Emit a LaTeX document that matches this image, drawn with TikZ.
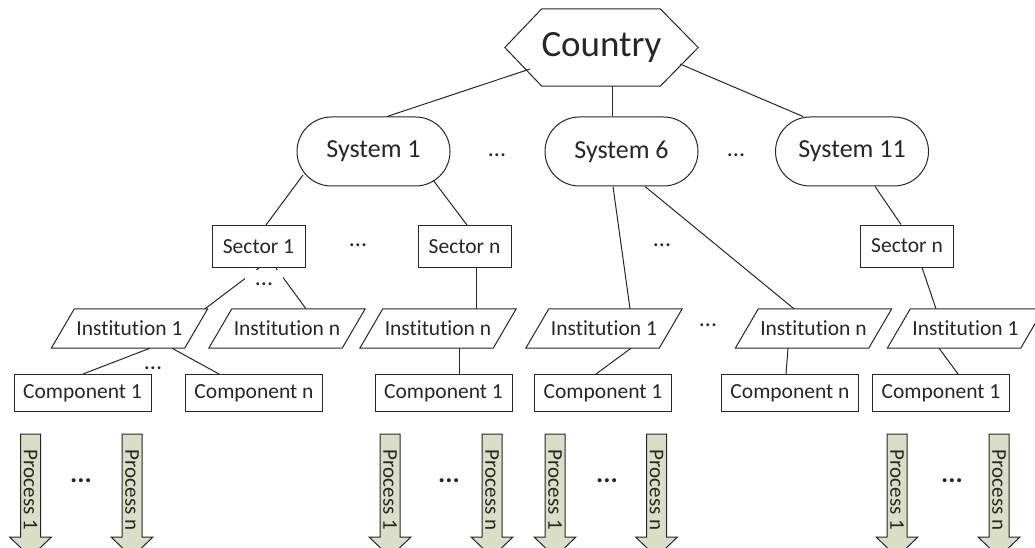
\documentclass[tikz,border=0pt]{standalone}
\usepackage{fontspec}
\setmainfont[RawFeature={-liga}]{Carlito}
\usetikzlibrary{calc,shapes.misc}

\definecolor{ink}{RGB}{38,38,38}
\definecolor{procfill}{RGB}{218,222,198}

\tikzset{
  edge/.style={draw=ink, line width=1pt},
  lbl/.style={text=ink, inner sep=0pt, font=\fontsize{21.5}{24}\selectfont},
  sysbox/.style={lbl, rounded rectangle, edge, minimum width=153, minimum height=69,
    font=\fontsize{26}{30}\selectfont},
  secbox/.style={lbl, rectangle, edge, minimum width=93, minimum height=42},
  compbox/.style={lbl, rectangle, edge, minimum width=137, minimum height=37},
  instlbl/.style={lbl, minimum width=133, minimum height=39},
  proclbl/.style={lbl, rotate=-90, font=\fontsize{21}{24}\selectfont},
  arrowbody/.style={edge, fill=procfill},
  gap/.style={lbl, font=\fontsize{24}{26}\selectfont},
  procgap/.style={lbl, font=\fontsize{27}{30}\bfseries\selectfont},
}

% parallelogram holding an institution name
\newcommand\institution[4]{%
  \node[instlbl] (#1) at (#2,#3) {#4};
  \draw[edge] ($(#1.south west)+(-11.5,0)$) -- ($(#1.north west)+(11.5,0)$)
    -- ($(#1.north east)+(11.5,0)$) -- ($(#1.south east)+(-11.5,0)$) -- cycle;}

% downward block arrow with a vertical process name
\newcommand\processarrow[3]{%
  \draw[arrowbody] (#2-10,434) -- (#2+10,434) -- (#2+10,537) -- (#2+21,537)
    -- (#2,557) -- (#2-21,537) -- (#2-10,537) -- cycle;
  \node[proclbl] (#1) at (#2,490) {#3};}

\begin{document}
\begin{tikzpicture}[x=1pt,y=-1pt]
\useasboundingbox (0,0) rectangle (1035,548);
\clip (0,0) rectangle (1035,548);

% root
\node[lbl, font=\fontsize{37}{40}\selectfont, minimum width=193, minimum height=77]
  (country) at (601.5,47.5) {Country};
\draw[edge] (country.west) -- ($(country.north west)+(37,0)$)
  -- ($(country.north east)+(-38,0)$) -- (country.east)
  -- ($(country.south east)+(-38,0)$) -- ($(country.south west)+(37,0)$) -- cycle;

% systems
\node[sysbox] (s1)  at (373.5,151.5) {System 1};
\node[sysbox] (s6)  at (621.5,151.5) {System 6};
\node[sysbox] (s11) at (852,151.5)   {System 11};

% sectors
\node[secbox] (sec1)  at (258.5,246.5) {Sector 1};
\node[secbox] (secNa) at (464.5,246.5) {Sector n};
\node[secbox] (secNe) at (907,246)     {Sector n};

% institutions
\institution{i1a}{129.5}{328.5}{Institution 1}
\institution{iNa}{287}{328.5}{Institution n}
\institution{iNb}{438}{328.5}{Institution n}
\institution{i1c}{604}{328.5}{Institution 1}
\institution{iNd}{813.5}{328.5}{Institution n}
\institution{i1e}{965.5}{328.5}{Institution 1}

% components
\node[compbox] (c1a) at (82.5,393)  {Component 1};
\node[compbox] (cNa) at (254,393)   {Component n};
\node[compbox] (c1b) at (443.5,393) {Component 1};
\node[compbox] (c1c) at (603,393)   {Component 1};
\node[compbox] (cNd) at (790,393)   {Component n};
\node[compbox] (c1e) at (941,393)   {Component 1};

% processes
\processarrow{p1a}{30.5}{Process 1}
\processarrow{pna}{132}{Process n}
\processarrow{p1b}{390}{Process 1}
\processarrow{pnb}{492}{Process n}
\processarrow{p1c}{555}{Process 1}
\processarrow{pnc}{656.5}{Process n}
\processarrow{p1e}{897}{Process 1}
\processarrow{pne}{999}{Process n}

% connectors
\draw[edge] ($(country.center)+(-71.5,21.5)$) -- ($(s1.north)+(13.5,0)$);
\draw[edge] ($(country.south)+(11,0)$) -- ($(s6.north)+(-9,0)$);
\draw[edge] ($(country.center)+(78.5,16.5)$) -- ($(s11.north)+(-49,0)$);

\draw[edge] ($(s1.center)+(-70.5,23.5)$) -- ($(sec1.north)+(7.5,0)$);
\draw[edge] ($(s1.center)+(59.5,28.5)$) -- ($(secNa.north)+(2.5,0)$);
\draw[edge] ($(sec1.south)+(0.5,0)$) -- ($(i1a.north)+(75.5,0)$);
\draw[edge] ($(sec1.south)+(17.5,0)$) -- ($(iNa.north)+(19,0)$);
\draw[edge] ($(secNa.south)+(11.5,0)$) -- ($(iNb.north)+(38,0)$);
\draw[edge] ($(i1a.south)+(20.5,0)$) -- ($(c1a.north)+(0.5,0)$);
\draw[edge] ($(i1a.south)+(42.5,0)$) -- ($(cNa.north)+(-35,0)$);
\draw[edge] ($(iNb.south)+(21,0)$) -- ($(c1b.north)+(15.5,0)$);

\draw[edge] ($(s6.south)+(-8.5,0)$) -- ($(i1c.north)+(26,0)$);
\draw[edge] ($(s6.south)+(23.5,0)$) -- ($(iNd.north)+(-19.5,0)$);
\draw[edge] ($(i1c.south)+(27,0)$) -- ($(c1c.north)+(-7,0)$);
\draw[edge] ($(iNd.south)+(-25.5,0)$) -- ($(cNd.north)+(-4,0)$);

\draw[edge] ($(s11.south)+(23,0)$) -- ($(secNe.north)+(-6,0)$);
\draw[edge] ($(secNe.south)+(15,0)$) -- ($(i1e.north)+(-29.5,0)$);
\draw[edge] ($(i1e.south)+(-26.5,0)$) -- ($(c1e.north)+(17,0)$);

% ellipses marking omitted siblings
\node[gap] (g1) at (497,155) {...};
\node[gap] (g2) at (736,155) {...};
\node[gap] (g3) at (358,245) {...};
\node[gap] (g4) at (662,245) {...};
\node[gap, fill=white, text height=8pt, text depth=0pt, minimum width=38, minimum height=22]
  (g5) at (264,281) {...};
\node[gap] (g6) at (153,368) {...};
\node[gap] (g7) at (708,325) {...};
\node[procgap] (g8)  at (81,481)  {...};
\node[procgap] (g9)  at (449,481) {...};
\node[procgap] (g10) at (607,481) {...};
\node[procgap] (g11) at (952,481) {...};
\end{tikzpicture}
\end{document}
